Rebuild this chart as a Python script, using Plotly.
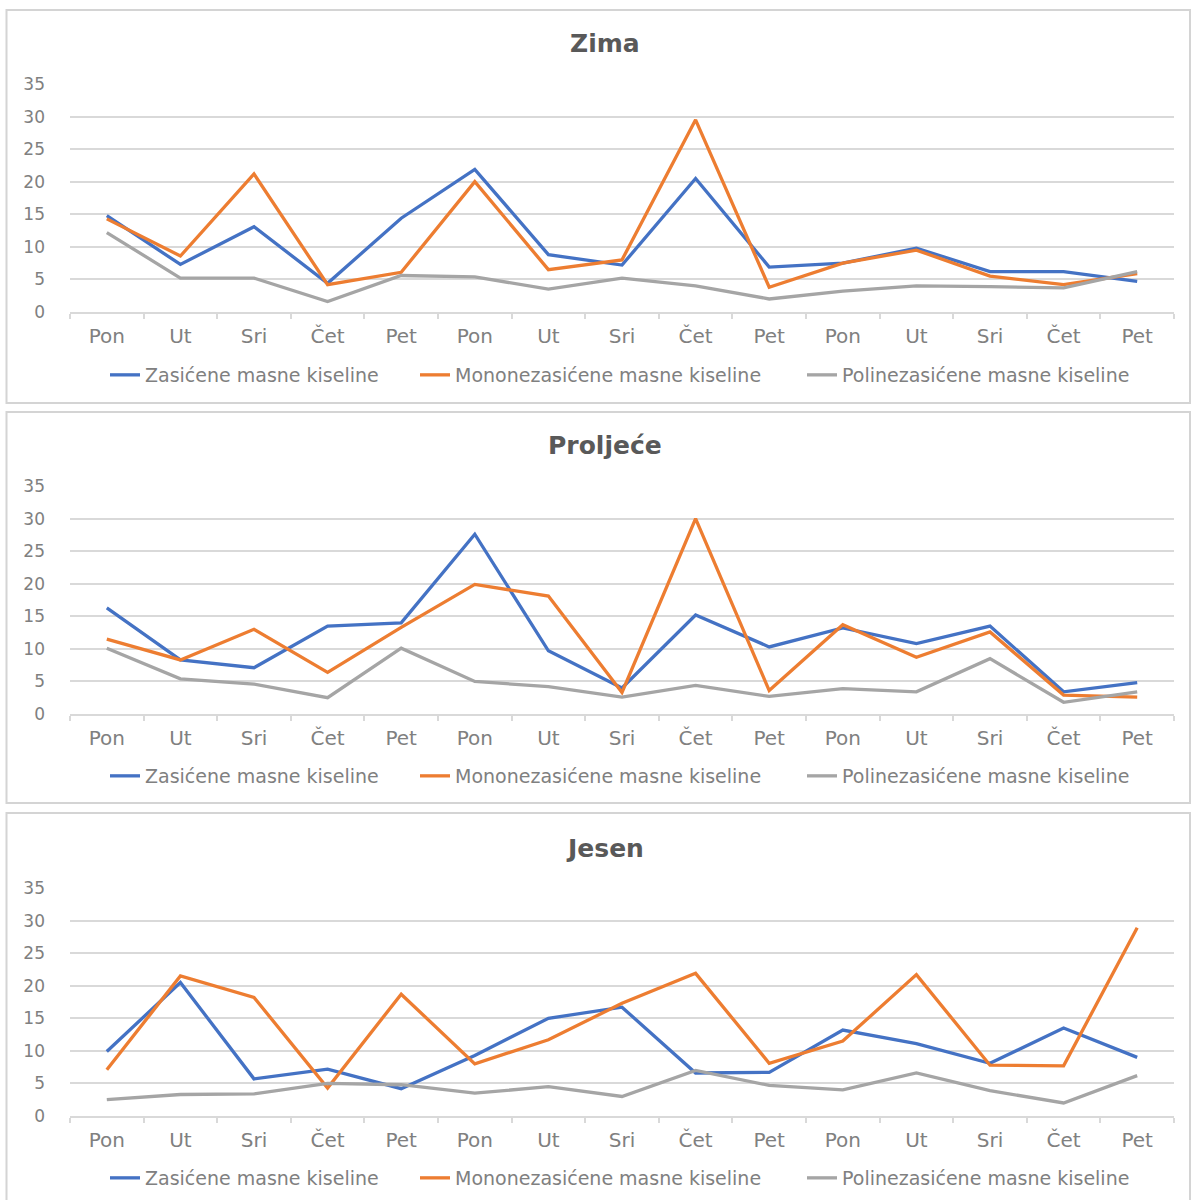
import plotly.graph_objects as go

# Day labels along the x axis (three working weeks)
days = ["Pon", "Ut", "Sri", "Čet", "Pet",
        "Pon", "Ut", "Sri", "Čet", "Pet",
        "Pon", "Ut", "Sri", "Čet", "Pet"]

series_names = ["Zasićene masne kiseline",
                "Mononezasićene masne kiseline",
                "Polinezasićene masne kiseline"]

# Zima
zima_zas = [14.8, 7.3, 13.1, 4.4, 14.4, 21.9, 8.8, 7.2, 20.5, 6.9, 7.5, 9.8, 6.2, 6.2, 4.7]
zima_mono = [14.3, 8.6, 21.2, 4.2, 6.1, 20.0, 6.5, 8.0, 29.5, 3.8, 7.5, 9.5, 5.5, 4.2, 5.9]
zima_poli = [12.2, 5.2, 5.2, 1.6, 5.6, 5.4, 3.5, 5.2, 4.0, 2.0, 3.2, 4.0, 3.9, 3.7, 6.2]

# Proljeće
proljece_zas = [16.3, 8.3, 7.1, 13.5, 14.0, 27.6, 9.7, 4.0, 15.2, 10.3, 13.2, 10.8, 13.5, 3.4, 4.8]
proljece_mono = [11.5, 8.3, 13.0, 6.4, 13.3, 19.9, 18.1, 3.3, 30.0, 3.6, 13.7, 8.7, 12.6, 2.9, 2.6]
proljece_poli = [10.1, 5.4, 4.6, 2.5, 10.1, 5.0, 4.2, 2.6, 4.4, 2.7, 3.9, 3.4, 8.5, 1.8, 3.4]

# Jesen
jesen_zas = [9.9, 20.5, 5.7, 7.2, 4.2, 9.3, 15.0, 16.7, 6.6, 6.7, 13.2, 11.1, 8.1, 13.5, 9.0]
jesen_mono = [7.1, 21.5, 18.2, 4.3, 18.7, 8.0, 11.7, 17.3, 21.9, 8.1, 11.5, 21.7, 7.8, 7.7, 28.9]
jesen_poli = [2.5, 3.3, 3.4, 5.0, 4.8, 3.5, 4.5, 3.0, 7.0, 4.7, 4.0, 6.6, 3.9, 2.0, 6.2]

seasons = ["Zima", "Proljeće", "Jesen"]
season_data = [
    (zima_zas, zima_mono, zima_poli),
    (proljece_zas, proljece_mono, proljece_poli),
    (jesen_zas, jesen_mono, jesen_poli),
]
colors = ["#4472C4", "#ED7D31", "#A5A5A5"]
# Horizontal space reserved for each legend entry's text
entry_widths = [265, 342, 290]

W, H = 1192, 1200
FONT = "DejaVu Sans"
TICK_COLOR = "#808080"
GRID = "#d9d9d9"


def py(px):
    """Convert a pixel row (from top) to a paper fraction."""
    return 1 - px / H


def pxx(px):
    return px / W


# Per-panel pixel layout: (panel top, panel bottom, title y, 35-line y, 0-line y, legend y)
panels = [
    (10, 403, 44, 84, 312, 375),
    (412, 803, 445, 486, 714, 776),
    (813, 1204, 848, 888, 1116, 1178),
]

x_idx = list(range(len(days)))
fig = go.Figure()
layout = dict(
    width=W, height=H,
    margin=dict(l=0, r=0, t=0, b=0, pad=0, autoexpand=False),
    paper_bgcolor="white", plot_bgcolor="white",
    font=dict(family=FONT, color=TICK_COLOR, size=17),
    showlegend=True,
    shapes=[], annotations=[],
)

for i, (season, data) in enumerate(zip(seasons, season_data)):
    n = "" if i == 0 else str(i + 1)
    top, bottom, ty, y35, y0, ly = panels[i]
    legend_key = "legend" + n
    for name, vals, col, ew in zip(series_names, data, colors, entry_widths):
        fig.add_trace(go.Scatter(
            x=x_idx, y=vals, mode="lines", name=name,
            line=dict(color=col, width=3.3),
            xaxis="x" + n, yaxis="y" + n, legend=legend_key,
            legendwidth=ew, hoverinfo="skip",
        ))

    layout["xaxis" + n] = dict(
        domain=[pxx(70), pxx(1174)], anchor="y" + n,
        range=[-0.5, len(days) - 0.5],
        tickmode="array", tickvals=x_idx, ticktext=days,
        ticks="", showgrid=False, zeroline=False,
        showline=True, linecolor=GRID, linewidth=1.5,
        tickfont=dict(family=FONT, size=20, color=TICK_COLOR),
        ticklabelstandoff=5, automargin=False,
        minor=dict(ticks="outside", tickmode="array",
                   tickvals=[k - 0.5 for k in range(len(days) + 1)],
                   ticklen=5, tickcolor=GRID, tickwidth=1.5, showgrid=False),
        fixedrange=True,
    )
    layout["yaxis" + n] = dict(
        domain=[py(y0), py(y35)], anchor="x" + n,
        range=[0, 35], dtick=5, tick0=0,
        showgrid=True, gridcolor=GRID, gridwidth=1.5,
        zeroline=False, showline=False, ticks="",
        tickfont=dict(family=FONT, size=17, color=TICK_COLOR),
        ticklabelstandoff=24, automargin=False,
        fixedrange=True,
    )
    layout[legend_key] = dict(
        orientation="h", x=pxx(105), xanchor="left",
        y=py(ly), yanchor="middle",
        font=dict(family=FONT, size=19, color=TICK_COLOR),
        bgcolor="rgba(0,0,0,0)", itemwidth=30,
        tracegroupgap=0,
    )
    layout["annotations"].append(dict(
        text=season, xref="paper", yref="paper",
        x=0.5075, y=py(ty), xanchor="center", yanchor="middle",
        showarrow=False,
        font=dict(family=FONT, size=25, color="#595959", weight="bold"),
    ))
    layout["shapes"].append(dict(
        type="rect", xref="paper", yref="paper",
        x0=pxx(6.5), x1=pxx(1190), y0=py(bottom), y1=py(top),
        line=dict(color="#d4d4d4", width=2), fillcolor="rgba(0,0,0,0)",
        layer="below",
    ))

fig.update_layout(**layout)
fig.write_html("out.html")
